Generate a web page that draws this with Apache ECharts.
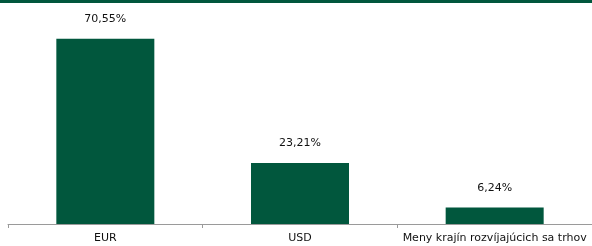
<!DOCTYPE html>
<html>
<head>
<meta charset="utf-8">
<script src="https://cdn.jsdelivr.net/npm/echarts@6/dist/echarts.min.js"></script>
<style>
  html, body { margin: 0; padding: 0; background: #fff; }
  #chart { width: 592px; height: 246px; }
</style>
</head>
<body>
<div id="chart"></div>
<script>
const categories = ['EUR', 'USD', 'Meny krajín rozvíjajúcich sa trhov'];
const shares = [70.55, 23.21, 6.24];

const green = '#01573d';

const chart = echarts.init(document.getElementById('chart'));
chart.setOption({
    animation: false,
    graphic: [{
        type: 'rect',
        left: 0,
        top: 0,
        shape: { width: 592, height: 3 },
        style: { fill: green }
    }],
    grid: { left: 8, right: -1, top: 14, bottom: 22 },
    xAxis: {
        type: 'category',
        data: categories,
        axisLine: { lineStyle: { color: '#9a9a9a', width: 1 } },
        axisTick: { show: true, length: 4, lineStyle: { color: '#9a9a9a' } },
        axisLabel: {
            color: '#111',
            fontFamily: 'DejaVu Sans',
            fontSize: 11,
            margin: 9,
            interval: 0
        }
    },
    yAxis: {
        type: 'value',
        min: 0,
        max: 80,
        show: false,
        splitLine: { show: false }
    },
    series: [{
        type: 'bar',
        data: shares,
        barWidth: 98,
        itemStyle: { color: green },
        label: {
            show: true,
            position: 'top',
            distance: 14,
            color: '#111',
            fontFamily: 'DejaVu Sans',
            fontSize: 11,
            formatter: p => p.value.toFixed(2).replace('.', ',') + '%'
        }
    }]
});
</script>
</body>
</html>
